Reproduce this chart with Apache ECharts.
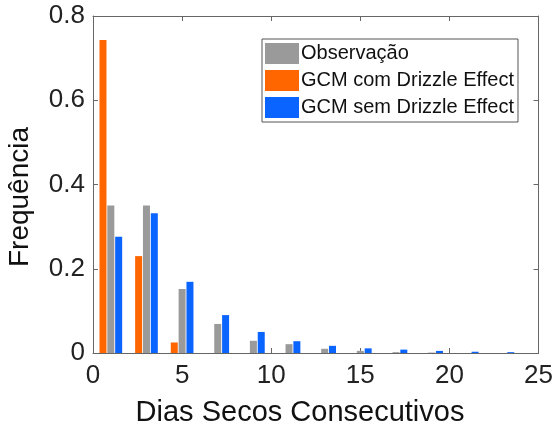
<!DOCTYPE html>
<html>
<head>
<meta charset="utf-8">
<script src="https://cdn.jsdelivr.net/npm/echarts@6/dist/echarts.min.js"></script>
<style>
html,body{margin:0;padding:0;background:#fff;}
#chart{width:556px;height:430px;}
</style>
</head>
<body>
<div id="chart"></div>
<script>
// Bin centres (consecutive dry days)
var binCenters = [1, 3, 5, 7, 9, 11, 13, 15, 17, 19, 21, 23];
var observacao = [0.350, 0.350, 0.152, 0.069, 0.029, 0.021, 0.010, 0.005, 0.002, 0.001, 0, 0];
var gcmComDrizzle = [0.743, 0.230, 0.025, 0, 0, 0, 0, 0, 0, 0, 0, 0];
var gcmSemDrizzle = [0.276, 0.332, 0.169, 0.090, 0.050, 0.028, 0.017, 0.011, 0.008, 0.005, 0.003, 0.002];
var xTicks = [0, 5, 10, 15, 20, 25];
var yTicks = [0, 0.2, 0.4, 0.6, 0.8];
var seriesNames = ['Observação', 'GCM com Drizzle Effect', 'GCM sem Drizzle Effect'];

function pairs(vals) {
  return binCenters.map(function (c, i) { return [c, vals[i]]; });
}

var FONT = '"Liberation Sans", Arial, sans-serif';
var axisColor = '#666';
var chart = echarts.init(document.getElementById('chart'), null, {renderer: 'canvas'});

var commonAxis = {
  axisLine: {show: true, onZero: false, lineStyle: {color: axisColor, width: 1}},
  axisTick: {show: true, inside: true, length: 5, lineStyle: {color: axisColor}},
  splitLine: {show: false}
};

var option = {
  animation: false,
  backgroundColor: '#fff',
  grid: {left: 93, right: 16, top: 16, bottom: 77, containLabel: false},
  legend: {
    orient: 'vertical',
    left: 262,
    top: 39,
    data: seriesNames,
    icon: 'rect',
    itemWidth: 34,
    itemHeight: 21,
    itemGap: 6,
    padding: [4, 4, 4, 3],
    backgroundColor: '#fff',
    borderColor: '#555',
    borderWidth: 1,
    borderRadius: 0,
    textStyle: {fontFamily: FONT, fontSize: 20, color: '#111', lineHeight: 21, padding: [0, 0, 0, -3]}
  },
  xAxis: [
    Object.assign({}, commonAxis, {
      type: 'value', min: xTicks[0], max: xTicks[xTicks.length - 1], interval: 5,
      position: 'bottom',
      axisLabel: {fontFamily: FONT, fontSize: 26, color: '#222', margin: 10}
    }),
    Object.assign({}, commonAxis, {
      type: 'value', min: xTicks[0], max: xTicks[xTicks.length - 1], interval: 5,
      position: 'top', axisLabel: {show: false}
    })
  ],
  yAxis: [
    Object.assign({}, commonAxis, {
      type: 'value', min: yTicks[0], max: yTicks[yTicks.length - 1], interval: 0.2,
      position: 'left',
      axisLabel: {fontFamily: FONT, fontSize: 26, color: '#222', margin: 8}
    }),
    Object.assign({}, commonAxis, {
      type: 'value', min: yTicks[0], max: yTicks[yTicks.length - 1], interval: 0.2,
      position: 'right', axisLabel: {show: false}
    })
  ],
  graphic: [
    {
      type: 'text', x: 300, y: 413, z: 10,
      style: {text: 'Dias Secos Consecutivos', font: '29px ' + FONT, fill: '#111', align: 'center', verticalAlign: 'middle'}
    },
    {
      type: 'text', x: 20, y: 197, rotation: Math.PI / 2, z: 10,
      style: {text: 'Frequência', font: '28px ' + FONT, fill: '#111', align: 'center', verticalAlign: 'middle'}
    }
  ],
  series: [
    {name: seriesNames[1], type: 'bar', data: pairs(gcmComDrizzle), barWidth: 7, barGap: '12%',
     itemStyle: {color: '#ff6600'}},
    {name: seriesNames[0], type: 'bar', data: pairs(observacao), barWidth: 7, barGap: '12%',
     itemStyle: {color: '#9a9a9a'}},
    {name: seriesNames[2], type: 'bar', data: pairs(gcmSemDrizzle), barWidth: 7, barGap: '12%',
     itemStyle: {color: '#0a64ff'}}
  ]
};
chart.setOption(option);
</script>
</body>
</html>
